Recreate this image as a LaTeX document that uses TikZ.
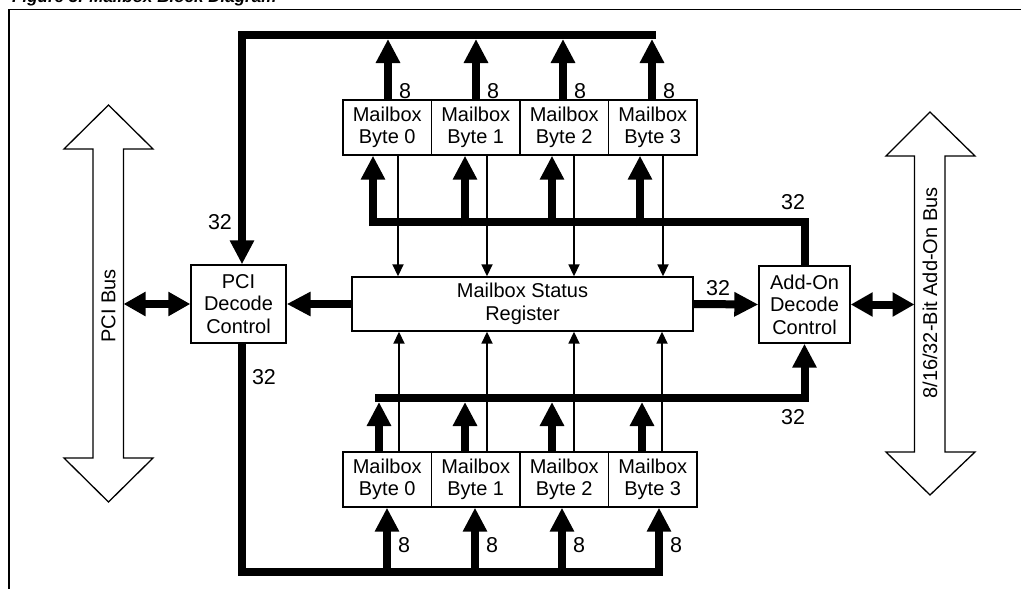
\documentclass[tikz,border=0pt]{standalone}
\usepackage{fontspec}
\setmainfont{Liberation Sans}
\usetikzlibrary{arrows.meta}
\begin{document}
\begin{tikzpicture}[x=1pt,y=-1pt,
  txt/.style={inner sep=0pt, font=\fontsize{20}{22.5}\selectfont},
  box/.style={txt, draw, line width=1.4pt, fill=white, align=center},
  lbl/.style={inner sep=0pt, font=\fontsize{21.5}{24}\selectfont},
  bus/.style={line width=8pt, line join=miter},
  fat/.style={line width=8pt, line join=miter, -{Triangle[length=24pt,width=23pt]}},
  fatboth/.style={line width=8pt, {Triangle[length=22pt,width=23pt]}-{Triangle[length=22pt,width=23pt]}},
  thinarr/.style={line width=1.8pt, -{Triangle[length=12pt,width=11pt]}},
  outline/.style={line width=1.3pt, line join=miter, fill=white}]
\path[use as bounding box, clip] (0,0) rectangle (1021,589);
% title (cut off at the top edge, as in the reference)
\node[anchor=base west, inner sep=0pt, font=\fontsize{17}{20}\selectfont\bfseries\itshape] (title) at (12,2) {Figure 3. Mailbox Block Diagram};
% frame
\draw[line width=1.4pt] (9,600) -- (9,9.5) -- (1030,9.5);
% big bus arrows
\draw[outline] (108.5,105) -- (153,149) -- (123.5,149) -- (123.5,458) -- (153,458) -- (108.5,502) -- (64,458) -- (93,458) -- (93,149) -- (64,149) -- cycle;
\node[txt, rotate=90] (pcibus) at (108.5,306) {PCI Bus};
\draw[outline] (930,112) -- (975,156) -- (945,156) -- (945,452) -- (975,452) -- (930,495) -- (886,452) -- (914.5,452) -- (914.5,156) -- (886,156) -- cycle;
\node[txt, rotate=90] (addbus) at (930,293) {8/16/32-Bit Add-On Bus};
\coordinate (pciport) at (123.5,304);
\coordinate (addport) at (914.5,304.5);
% boxes
\node[box, minimum width=88.5pt, minimum height=55pt] (t0) at (387.25,127.5) {Mailbox\\Byte 0};
\node[box, minimum width=88.5pt, minimum height=55pt] (t1) at (475.75,127.5) {Mailbox\\Byte 1};
\node[box, minimum width=88.5pt, minimum height=55pt] (t2) at (564.25,127.5) {Mailbox\\Byte 2};
\node[box, minimum width=88.5pt, minimum height=55pt] (t3) at (652.75,127.5) {Mailbox\\Byte 3};
\node[box, minimum width=88.5pt, minimum height=55pt] (b0) at (387.25,479.5) {Mailbox\\Byte 0};
\node[box, minimum width=88.5pt, minimum height=55pt] (b1) at (475.75,479.5) {Mailbox\\Byte 1};
\node[box, minimum width=88.5pt, minimum height=55pt] (b2) at (564.25,479.5) {Mailbox\\Byte 2};
\node[box, minimum width=88.5pt, minimum height=55pt] (b3) at (652.75,479.5) {Mailbox\\Byte 3};
\node[box, minimum width=341pt, minimum height=54pt] (reg) at (522.5,304) {Mailbox Status\\Register};
\node[box, minimum width=95pt, minimum height=78pt] (pci) at (238.5,304) {PCI\\Decode\\Control};
\node[box, minimum width=91pt, minimum height=77pt] (add) at (804.5,304.5) {Add-On\\Decode\\Control};
% coordinates of bus lines
\coordinate (ytop) at (0,35);
\coordinate (yin1) at (0,222);
\coordinate (yin2) at (0,398);
\coordinate (ybot) at (0,572);
\coordinate (xl) at (242,0);
% top bus: mailboxes -> PCI
\draw[fat] (656,35) -- (xl |- ytop) -- (xl |- pci.north);
\foreach \n/\x in {t0/388,t1/476,t2/563,t3/652}{
  \draw[fat] (\n.north -| \x,0) -- (\x,39);
  \node[lbl, anchor=west] (l\n) at (\x+11,91) {8};
}
% PCI -> bottom bus -> mailboxes
\draw[bus] (xl |- pci.south) -- (xl |- ybot) -- (663,572);
\foreach \n/\x in {b0/387,b1/475,b2/562,b3/659}{
  \draw[fat] (\x,568) -- (\n.south -| \x,0);
  \node[lbl, anchor=west] (l\n) at (\x+11,545) {8};
}
% Add-On -> upper mailboxes
\draw[bus] (add.north) -- (add.north |- yin1) -- (369,222);
\foreach \n/\x in {t0/373,t1/465,t2/552,t3/640}{
  \draw[fat] (\x,226) -- (\n.south -| \x,0);
}
% lower mailboxes -> Add-On
\draw[fat] (375,398) -- (add.south |- yin2) -- (add.south);
\foreach \n/\x in {b0/379,b1/465,b2/552,b3/642}{
  \draw[fat] (\n.north -| \x,0) -- (\x,402);
}
% status lines
\foreach \n/\x in {t0/398,t1/487,t2/574,t3/663}{
  \draw[thinarr] (\n.south -| \x,0) -- (reg.north -| \x,0);
}
\foreach \n/\x in {b0/399,b1/487,b2/574,b3/662}{
  \draw[thinarr] (\n.north -| \x,0) -- (reg.south -| \x,0);
}
% horizontal connections
\draw[fat] (reg.west) -- (pci.east);
\draw[fat] (reg.east) -- (add.west);
\draw[fatboth] (pciport) -- (pci.west);
\draw[fatboth] (add.east) -- (addport);
% width labels
\node[lbl] (w1) at (220,222) {32};
\node[lbl] (w2) at (264,377) {32};
\node[lbl] (w3) at (793,202) {32};
\node[lbl] (w4) at (793,417) {32};
\node[lbl] (w5) at (718,288) {32};
\end{tikzpicture}
\end{document}
